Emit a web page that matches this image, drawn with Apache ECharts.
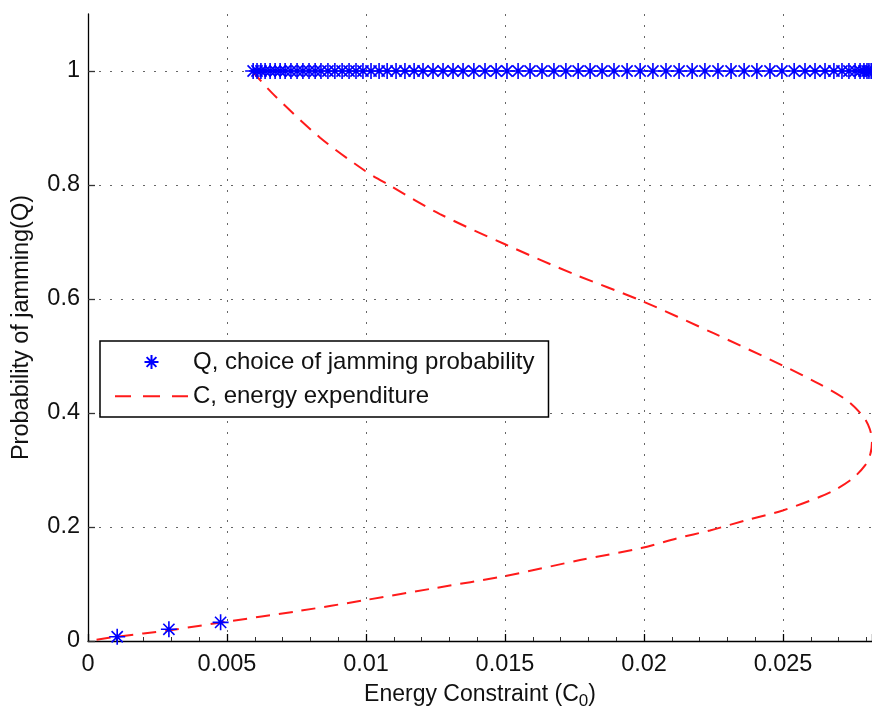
<!DOCTYPE html>
<html>
<head>
<meta charset="utf-8">
<script src="https://cdn.jsdelivr.net/npm/echarts@6/dist/echarts.min.js"></script>
<style>html,body{margin:0;padding:0;background:#fff}#c{width:872px;height:709px}</style>
</head>
<body>
<div id="c"></div>
<script>
// Energy expenditure curve C (x) vs probability Q (y)
const curveC = [0.00590, 0.00667, 0.00835, 0.00996, 0.01086, 0.01266, 0.01500, 0.01746, 0.01990, 0.02250, 0.02500, 0.02630, 0.02730, 0.02790, 0.02812, 0.02820, 0.02814, 0.02795, 0.02750, 0.02690, 0.02633, 0.02499, 0.02369, 0.02237, 0.02118, 0.01990, 0.01770, 0.01501, 0.01250, 0.01000, 0.00750, 0.00499, 0.00295, 0.00103, 0];
const curveQ = [1.000, 0.959, 0.883, 0.825, 0.799, 0.749, 0.696, 0.644, 0.597, 0.540, 0.483, 0.451, 0.422, 0.393, 0.372, 0.350, 0.328, 0.308, 0.285, 0.266, 0.253, 0.229, 0.212, 0.194, 0.180, 0.163, 0.142, 0.114, 0.093, 0.072, 0.052, 0.034, 0.019, 0.0075, 0];

// Choice of jamming probability Q (stars)
const starC = [0.00105, 0.00291, 0.00477,
  0.00594, 0.00608, 0.00622, 0.00637, 0.00655, 0.00673, 0.00691, 0.00709, 0.00730, 0.00752, 0.00773, 0.00795, 0.00817, 0.00838, 0.00863, 0.00888, 0.00914, 0.00939, 0.00964, 0.00989,
  0.01018, 0.01047, 0.01076, 0.01108, 0.01140, 0.01173, 0.01205, 0.01241, 0.01277, 0.01313, 0.01349, 0.01388, 0.01428, 0.01468, 0.01507, 0.01547, 0.01590, 0.01633, 0.01676, 0.01719, 0.01763, 0.01806, 0.01849, 0.01892, 0.01939, 0.01986,
  0.02032, 0.02079, 0.02126, 0.02173, 0.02219, 0.02266, 0.02313, 0.02360, 0.02406, 0.02453, 0.02496, 0.02540, 0.02579, 0.02615, 0.02651, 0.02683, 0.02712, 0.02737, 0.02759, 0.02777, 0.02791, 0.02802, 0.02809, 0.02817];
const starQ = [0.0075, 0.0205, 0.0327,
  1, 1, 1, 1, 1, 1, 1, 1, 1, 1, 1, 1, 1, 1, 1, 1, 1, 1, 1, 1,
  1, 1, 1, 1, 1, 1, 1, 1, 1, 1, 1, 1, 1, 1, 1, 1, 1, 1, 1, 1, 1, 1, 1, 1, 1, 1,
  1, 1, 1, 1, 1, 1, 1, 1, 1, 1, 1, 1, 1, 1, 1, 1, 1, 1, 1, 1, 1, 1, 1, 1];

const seriesNames = ['Q, choice of jamming probability', 'C, energy expenditure'];
const xTicks = {min: 0, max: 0.0282, interval: 0.005};
const yTicks = {min: 0, max: 1.1, interval: 0.2};

const FONT = 'Liberation Sans, Arial, sans-serif';
const starPath = 'path://M10 0L10 20M0 10L20 10M3 3L17 17M3 17L17 3';
const dashIcon = 'path://M0 0M73 14M0 6.2h16v2H0zM28 6.2h17v2H28zM57 6.2h16v2H57z';

const chart = echarts.init(document.getElementById('c'), null, {renderer: 'canvas'});
chart.setOption({
  backgroundColor: '#fff',
  animation: false,
  grid: {left: 88, right: 0, top: 14, bottom: 68, containLabel: false, outerBoundsMode: 'none'},
  xAxis: {
    type: 'value', min: xTicks.min, max: xTicks.max, interval: xTicks.interval,
    name: '{a|Energy Constraint (C}{s|0}{a|)}',
    nameLocation: 'middle', nameGap: 38,
    nameTextStyle: {rich: {
      a: {fontFamily: FONT, fontSize: 23, color: '#111'},
      s: {fontFamily: FONT, fontSize: 17, color: '#111', padding: [14, 0, 0, 0]}
    }},
    axisLine: {show: true, lineStyle: {color: '#000', width: 1.3}},
    axisTick: {show: true, inside: true, length: 7, lineStyle: {color: '#000', width: 1.3}},
    minorTick: {show: true, splitNumber: 5, length: 4, lineStyle: {color: '#333', width: 1}},
    axisLabel: {show: true, fontFamily: FONT, fontSize: 23.5, color: '#111', margin: 12, showMaxLabel: false,
      formatter: v => String(+v.toFixed(4))},
    splitLine: {show: true, showMinLine: false, showMaxLine: false, lineStyle: {color: '#666', width: 1, type: [2, 9]}}
  },
  yAxis: {
    type: 'value', min: yTicks.min, max: yTicks.max, interval: yTicks.interval,
    name: 'Probability of jamming(Q)', nameLocation: 'middle', nameGap: 54,
    nameTextStyle: {fontFamily: FONT, fontSize: 23.5, color: '#111'},
    axisLine: {show: true, lineStyle: {color: '#000', width: 1.3}},
    axisTick: {show: true, inside: true, length: 7, lineStyle: {color: '#333', width: 1.3}},
    axisLabel: {show: true, fontFamily: FONT, fontSize: 23.5, color: '#111', margin: 8, showMaxLabel: false,
      formatter: v => String(+v.toFixed(2))},
    splitLine: {show: true, showMinLine: false, showMaxLine: false, lineStyle: {color: '#666', width: 1, type: [2, 9]}}
  },
  legend: {
    orient: 'vertical', left: 100, top: 341,
    padding: [9, 14, 9, 15], itemGap: 10, itemWidth: 73, itemHeight: 14, itemTextGap: 12,
    backgroundColor: '#fff', borderColor: '#000', borderWidth: 1.5, borderRadius: 0,
    textStyle: {fontFamily: FONT, fontSize: 24, color: '#111'},
    data: [{name: seriesNames[0]}, {name: seriesNames[1], icon: dashIcon, itemStyle: {color: '#ff1a1a'}}]
  },
  series: [
    {
      name: seriesNames[1], type: 'line', smooth: 0.3, showSymbol: false, symbol: 'none', z: 2,
      data: curveC.map((c, i) => [c, curveQ[i]]),
      lineStyle: {color: '#ff1a1a', width: 2, type: [14, 9]},
      itemStyle: {color: '#ff1a1a'}
    },
    {
      name: seriesNames[0], type: 'scatter', symbol: starPath, symbolSize: 16, symbolKeepAspect: true, z: 3,
      data: starC.map((c, i) => [c, starQ[i]]),
      itemStyle: {color: 'rgba(0,0,0,0)', borderColor: '#0000ff', borderWidth: 1.6, opacity: 1}
    }
  ]
});
</script>
</body>
</html>
